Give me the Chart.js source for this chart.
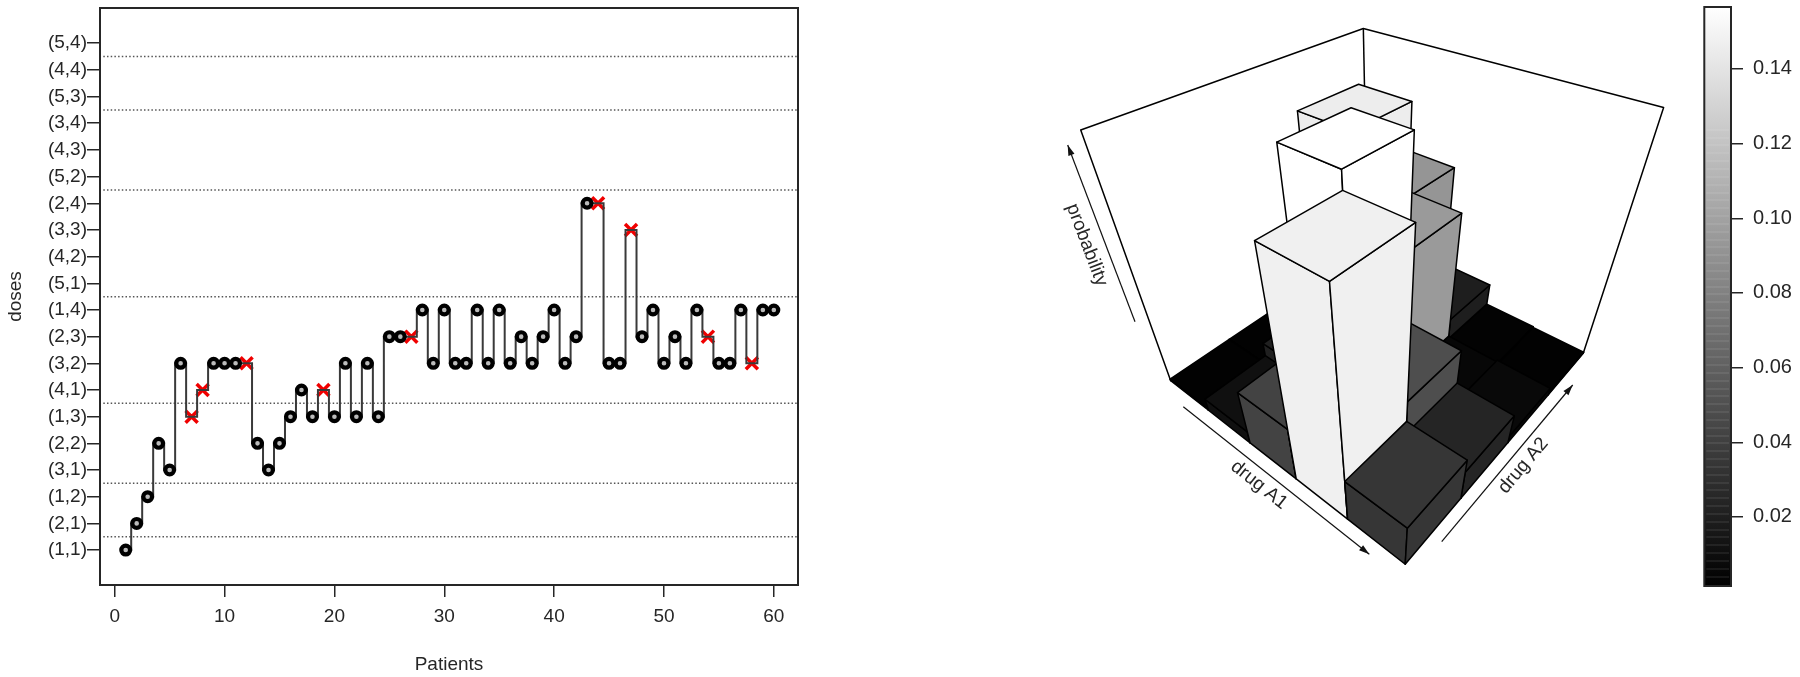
<!DOCTYPE html>
<html>
<head>
<meta charset="utf-8">
<title>Dose escalation</title>
<script src="https://cdn.jsdelivr.net/npm/chart.js@4"></script>
<style>
  html, body { margin: 0; padding: 0; background: #fff; overflow: hidden; }
  canvas { position: absolute; top: 0; }
  #doses { left: 0; top: -4px; }
  #hist { left: 1000px; }
  #bar { left: 1690px; }
</style>
</head>
<body>
<canvas id="doses" width="830" height="681"></canvas>
<canvas id="hist" width="690" height="677"></canvas>
<canvas id="bar" width="110" height="677"></canvas>
<script>
// left panel
var doseLabels = ["(1,1)", "(2,1)", "(1,2)", "(3,1)", "(2,2)", "(1,3)", "(4,1)", "(3,2)", "(2,3)", "(1,4)",
                  "(5,1)", "(4,2)", "(3,3)", "(2,4)", "(5,2)", "(4,3)", "(3,4)", "(5,3)", "(4,4)", "(5,4)"];
var patientTicks = [0, 10, 20, 30, 40, 50, 60];
// dose given to patients 1..60, as position in doseLabels (1 = first)
var patientDoses = [1, 2, 3, 5, 4, 8, 6, 7, 8, 8, 8, 8, 5, 4, 5, 6, 7, 6, 7, 6,
                    8, 6, 8, 6, 9, 9, 9, 10, 8, 10, 8, 8, 10, 8, 10, 8, 9, 8, 9, 10,
                    8, 9, 14, 14, 8, 8, 13, 9, 10, 8, 9, 8, 10, 9, 8, 8, 10, 8, 10, 10];
var toxicPatients = [7, 8, 12, 19, 27, 44, 47, 54, 58];
var sumBoundaries = [1.5, 3.5, 6.5, 10.5, 14.5, 17.5, 19.5];

// right panel: probability per drug A2 level, one list per drug A1 level
var a1Levels = [1, 2, 3, 4, 5];
var a2Levels = [1, 2, 3, 4];
var probA1_1 = [0.0015, 0.0015, 0.001, 0.001];
var probA1_2 = [0.0097, 0.02, 0.146, 0.0915];
var probA1_3 = [0.0415, 0.157, 0.095, 0.0185];
var probA1_4 = [0.148, 0.048, 0.0042, 0.0017];
var probA1_5 = [0.033, 0.023, 0.0056, 0.001];
var probRows = [probA1_1, probA1_2, probA1_3, probA1_4, probA1_5];
var probMax = 0.157;

var colorTicks = [0.02, 0.04, 0.06, 0.08, 0.10, 0.12, 0.14];
var colorRange = [0.0015, 0.1566];

var fontName = "'Liberation Sans', Arial, sans-serif";
var inkColor = "#262626";

function tickValues(values) {
    return function (scale) {
        scale.ticks = values.map(function (v) { return { value: v }; });
    };
}

// outer box of an R plot
var boxPlugin = {
    id: "box",
    afterDatasetsDraw: function (chart) {
        var a = chart.chartArea, ctx = chart.ctx;
        ctx.save();
        ctx.strokeStyle = inkColor;
        ctx.lineWidth = 2;
        ctx.strokeRect(a.left, a.top, a.right - a.left, a.bottom - a.top);
        ctx.restore();
    }
};

var dottedSets = sumBoundaries.map(function (b) {
    return {
        data: [{ x: -1.04, y: b }, { x: 62.2, y: b }],
        borderColor: "#555",
        borderWidth: 1.5,
        borderDash: [1.5, 2.2],
        pointRadius: 0
    };
});

// first dataset is painted last
var doseChart = new Chart(document.getElementById("doses"), {
    type: "line",
    data: {
        datasets: [
            {
                data: patientDoses.map(function (d, i) { return { x: i + 1, y: d }; })
                    .filter(function (p) { return toxicPatients.indexOf(p.x) < 0; }),
                showLine: false,
                pointStyle: "circle",
                pointRadius: 4.4,
                pointBorderWidth: 4.2,
                pointBorderColor: "#000",
                pointBackgroundColor: "#bbb"
            },
            {
                data: patientDoses.map(function (d, i) { return { x: i + 1, y: d }; }),
                stepped: "middle",
                borderColor: "#3a3a3a",
                borderWidth: 2,
                pointRadius: 0
            },
            {
                data: toxicPatients.map(function (p) { return { x: p, y: patientDoses[p - 1] }; }),
                showLine: false,
                pointStyle: "crossRot",
                pointRadius: 8.5,
                pointBorderWidth: 3.5,
                pointBorderColor: "#f00000"
            }
        ].concat(dottedSets)
    },
    options: {
        responsive: false,
        animation: false,
        layout: { padding: { top: 7, right: 32 } },
        plugins: { legend: { display: false }, tooltip: { enabled: false } },
        scales: {
            x: {
                type: "linear",
                min: -1.34,
                max: 62.2,
                afterBuildTicks: tickValues(patientTicks),
                afterFit: function (s) { s.height = 92; s.paddingLeft = 0; s.paddingRight = 0; },
                grid: { drawOnChartArea: false, tickLength: 12, color: inkColor, lineWidth: 1.5 },
                border: { color: inkColor, width: 2 },
                ticks: { color: inkColor, font: { family: fontName, size: 19 }, padding: 8, maxRotation: 0 },
                title: { display: true, text: "Patients", color: inkColor, font: { family: fontName, size: 19 }, padding: { bottom: 1 } }
            },
            y: {
                type: "linear",
                min: -0.31,
                max: 21.32,
                afterBuildTicks: tickValues(doseLabels.map(function (l, i) { return i + 1; })),
                afterFit: function (s) { s.width = 100; s.paddingBottom = 0; },
                grid: { drawOnChartArea: false, tickLength: 13, color: inkColor, lineWidth: 1.5 },
                border: { color: inkColor, width: 2 },
                ticks: {
                    color: inkColor,
                    font: { family: fontName, size: 19 },
                    padding: 0,
                    autoSkip: false,
                    callback: function (v) { return doseLabels[v - 1]; }
                },
                title: { display: true, text: "doses", color: inkColor, font: { family: fontName, size: 19 }, padding: { top: 4 } }
            }
        }
    },
    plugins: [boxPlugin]
});

// perspective of the unit cube (drug A1, drug A2, probability) on the page
var viewOrigin = [1170.7, 380.7, 1];
var viewA1 = [-91.91, 52.49, -0.2323];
var viewA2 = [579.5, -63.18, 0.2797];
var viewZ = [-412.9, -289.5, -0.2988];

function project(a, b, c) {
    var h = [0, 1, 2].map(function (k) {
        return viewOrigin[k] + a * viewA1[k] + b * viewA2[k] + c * viewZ[k];
    });
    return [h[0] / h[2], h[1] / h[2]];
}

// position along a scale, 0 to 1
function frac(scale, v) {
    return scale.getDecimalForPixel(scale.getPixelForValue(v));
}

function grey(p) {
    var g = Math.round(255 * Math.min(p / probMax, 1));
    return "rgb(" + g + "," + g + "," + g + ")";
}

function polygon(ctx, pts, fill) {
    ctx.beginPath();
    pts.forEach(function (p, i) {
        if (i === 0) ctx.moveTo(p[0], p[1]);
        else ctx.lineTo(p[0], p[1]);
    });
    ctx.closePath();
    if (fill) {
        ctx.fillStyle = fill;
        ctx.fill();
    }
    ctx.stroke();
}

function arrow(ctx, from, to) {
    var ang = Math.atan2(to[1] - from[1], to[0] - from[0]);
    ctx.beginPath();
    ctx.moveTo(from[0], from[1]);
    ctx.lineTo(to[0], to[1]);
    ctx.stroke();
    ctx.beginPath();
    ctx.moveTo(to[0], to[1]);
    ctx.lineTo(to[0] - 11 * Math.cos(ang - 0.3), to[1] - 11 * Math.sin(ang - 0.3));
    ctx.lineTo(to[0] - 11 * Math.cos(ang + 0.3), to[1] - 11 * Math.sin(ang + 0.3));
    ctx.closePath();
    ctx.fillStyle = "#111";
    ctx.fill();
}

function slanted(ctx, text, x, y, deg) {
    ctx.save();
    ctx.translate(x, y);
    ctx.rotate(deg * Math.PI / 180);
    ctx.fillStyle = inkColor;
    ctx.font = "19px " + fontName;
    ctx.textAlign = "center";
    ctx.textBaseline = "middle";
    ctx.fillText(text, 0, 0);
    ctx.restore();
}

var histPlugin = {
    id: "hist3d",
    afterDatasetsDraw: function (chart) {
        var ctx = chart.ctx;
        var sx = chart.scales.x, sy = chart.scales.y, sz = chart.scales.z;
        ctx.save();
        ctx.translate(-1000, 0);
        ctx.lineJoin = "round";
        ctx.strokeStyle = "#000";
        ctx.lineWidth = 1.5;

        // back walls
        var tl = project(0, 0, 1), tb = project(0, 1, 1), tr = project(1, 1, 1);
        var fl = project(0, 0, 0), fb = project(0, 1, 0), fr = project(1, 1, 0);
        polygon(ctx, [tl, tb, tr, fr, fb, fl]);
        ctx.beginPath();
        ctx.moveTo(tb[0], tb[1]);
        ctx.lineTo(fb[0], fb[1]);
        ctx.stroke();

        // far cells first
        chart.data.datasets[0].data.forEach(function (d) {
            var a0 = frac(sx, d.x - 0.5), a1 = frac(sx, d.x + 0.5);
            var b0 = frac(sy, d.y - 0.5), b1 = frac(sy, d.y + 0.5);
            var c = frac(sz, d.p);
            var col = grey(d.p);
            polygon(ctx, [project(a0, b0, 0), project(a1, b0, 0), project(a1, b0, c), project(a0, b0, c)], col);
            polygon(ctx, [project(a1, b0, 0), project(a1, b1, 0), project(a1, b1, c), project(a1, b0, c)], col);
            polygon(ctx, [project(a0, b0, c), project(a1, b0, c), project(a1, b1, c), project(a0, b1, c)], col);
        });

        ctx.strokeStyle = "#111";
        ctx.lineWidth = 1.2;
        arrow(ctx, [1135, 321.7], [1067.7, 145]);
        arrow(ctx, [1183.3, 406.7], [1369.3, 554.3]);
        arrow(ctx, [1441.7, 541.7], [1572.7, 385]);
        slanted(ctx, "probability", 1086.7, 245, 69.3);
        slanted(ctx, "drug A1", 1259, 485, 38.4);
        slanted(ctx, "drug A2", 1523.3, 465.7, -50);
        ctx.restore();
    }
};

var histCells = [];
a1Levels.forEach(function (i, r) {
    a2Levels.slice().reverse().forEach(function (j) {
        histCells.push({ x: i, y: j, p: probRows[r][j - 1] });
    });
});

var histChart = new Chart(document.getElementById("hist"), {
    type: "scatter",
    data: { datasets: [{ data: histCells, pointRadius: 0 }] },
    options: {
        responsive: false,
        animation: false,
        plugins: { legend: { display: false }, tooltip: { enabled: false } },
        scales: {
            x: { type: "linear", min: 0.5, max: 5.5, display: false },
            y: { type: "linear", min: 0.5, max: 4.5, display: false },
            z: { axis: "y", type: "linear", min: 0, max: probMax, display: false }
        }
    },
    plugins: [histPlugin]
});

// thin light bands the colour key shows in the lower part
var bandPlugin = {
    id: "bands",
    afterDatasetsDraw: function (chart) {
        var a = chart.chartArea, ctx = chart.ctx, s = chart.scales.y;
        ctx.save();
        ctx.strokeStyle = "rgba(255,255,255,0.1)";
        ctx.lineWidth = 1.5;
        for (var v = 0.004; v < 0.125; v += 0.0021) {
            var y = Math.round(s.getPixelForValue(v));
            ctx.beginPath();
            ctx.moveTo(a.left + 2, y);
            ctx.lineTo(a.right - 2, y);
            ctx.stroke();
        }
        ctx.restore();
    }
};

var barChart = new Chart(document.getElementById("bar"), {
    type: "bar",
    data: {
        labels: ["probability"],
        datasets: [{
            data: [colorRange],
            barPercentage: 1,
            categoryPercentage: 1,
            backgroundColor: "#888"
        }]
    },
    options: {
        responsive: false,
        animation: false,
        layout: { padding: { left: 14.3, top: 7, bottom: 91 } },
        plugins: { legend: { display: false }, tooltip: { enabled: false } },
        scales: {
            x: { display: false },
            y: {
                position: "right",
                min: colorRange[0],
                max: colorRange[1],
                afterBuildTicks: tickValues(colorTicks),
                afterFit: function (s) { s.width = 69; s.paddingTop = 0; s.paddingBottom = 0; },
                grid: { drawOnChartArea: false, tickLength: 12, color: inkColor, lineWidth: 1.5 },
                border: { display: false },
                ticks: {
                    color: inkColor,
                    font: { family: fontName, size: 20 },
                    padding: 10,
                    callback: function (v) { return v.toFixed(2); }
                }
            }
        }
    },
    plugins: [bandPlugin, boxPlugin]
});

var barScale = barChart.scales.y;
var barFill = barChart.ctx.createLinearGradient(0, barScale.getPixelForValue(colorRange[0]), 0, barScale.getPixelForValue(colorRange[1]));
barFill.addColorStop(0, "#000");
barFill.addColorStop(1, "#fff");
barChart.data.datasets[0].backgroundColor = barFill;
barChart.update();
</script>
</body>
</html>
